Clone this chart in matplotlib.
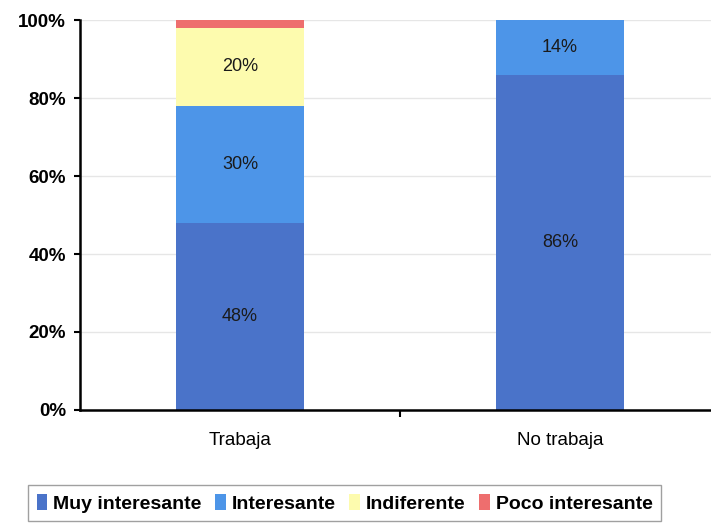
import numpy as np
import matplotlib.pyplot as plt
from matplotlib.patches import Patch

plt.rcParams['font.family'] = ['Liberation Sans', 'DejaVu Sans']

categories = ['Trabaja', 'No trabaja']
series_names = ['Muy interesante', 'Interesante', 'Indiferente', 'Poco interesante']
muy_interesante = [48, 86]
interesante = [30, 14]
indiferente = [20, 0]
poco_interesante = [2, 0]
values = [muy_interesante, interesante, indiferente, poco_interesante]
colors = ['#4a73c9', '#4d95e8', '#fdfbae', '#ee6e6e']

fig = plt.figure(figsize=(7.11, 5.24), dpi=100)
ax = fig.add_axes([80 / 711, 1 - 410 / 524, 631 / 711, 390 / 524])

x = np.arange(len(categories))
bottom = np.zeros(len(categories))
for vals, col in zip(values, colors):
    vals = np.array(vals, dtype=float)
    ax.bar(x, vals, 0.4, bottom=bottom, color=col, zorder=2)
    for xi, v, b in zip(x, vals, bottom):
        if v >= 5:
            ax.text(xi, b + v / 2, f'{int(v)}%', ha='center', va='center',
                    fontsize=13, color='#1a1a1a', zorder=3)
    bottom += vals

ax.set_xlim(-0.5, -0.5 + 631 / 320)
ax.set_ylim(0, 100)
ax.set_yticks(range(0, 101, 20))
ax.set_yticklabels([f'{v}%' for v in range(0, 101, 20)], fontsize=13.5, fontweight='bold')
ax.yaxis.grid(True, color='#e6e6e6', lw=1, zorder=0)
ax.set_xticks(x)
ax.set_xticklabels(categories, fontsize=13.5)
ax.tick_params(axis='x', length=0, pad=16)
ax.set_xticks([0.5], minor=True)
ax.tick_params(axis='x', which='minor', length=5, width=1.5, direction='out')
ax.tick_params(axis='y', length=4, width=1.5, pad=6)
for s in ['top', 'right']:
    ax.spines[s].set_visible(False)
for s in ['left', 'bottom']:
    ax.spines[s].set_linewidth(1.8)

handles = [Patch(facecolor=c, edgecolor='none') for c in colors]
leg = fig.legend(handles, series_names, loc='upper left', ncol=4,
                 bbox_to_anchor=(28 / 711, 1 - 485 / 524), fontsize=14,
                 frameon=True, fancybox=False, edgecolor='#888888',
                 handlelength=0.55, handleheight=0.9, handletextpad=0.3,
                 columnspacing=0.7, borderpad=0.45, borderaxespad=0)
for t in leg.get_texts():
    t.set_fontweight('bold')

fig.savefig('out.png', dpi=100)
